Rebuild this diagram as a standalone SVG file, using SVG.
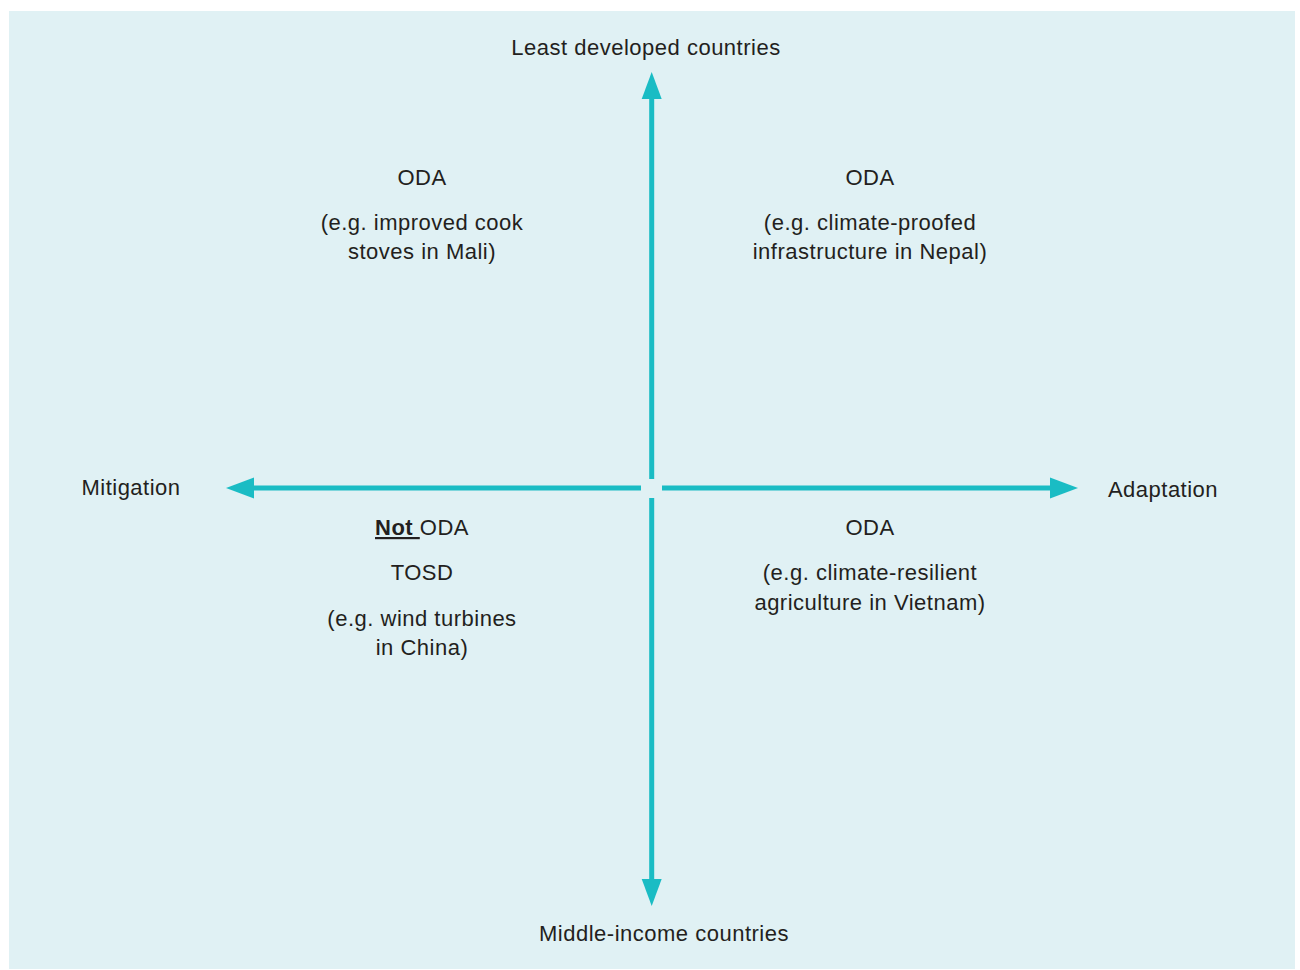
<svg xmlns="http://www.w3.org/2000/svg" width="1300" height="970" viewBox="0 0 1300 970">
<style>
text{font-family:"Liberation Sans",Arial,sans-serif;font-size:22px;letter-spacing:0.5px;fill:#231F20;text-anchor:middle}
.ax{stroke:#1ABCC4;stroke-width:5;fill:none}
.hd{fill:#1ABCC4}
</style>
<rect x="9" y="11" width="1286" height="958" fill="#E0F1F4"/>
<g id="connectors">
<line class="ax" x1="651.7" y1="98" x2="651.7" y2="479"/>
<polygon class="hd" points="651.7,72 641.7,99 661.7,99"/>
<line class="ax" x1="651.7" y1="498" x2="651.7" y2="880"/>
<polygon class="hd" points="651.7,906 641.7,879 661.7,879"/>
<line class="ax" x1="253" y1="488" x2="641" y2="488"/>
<polygon class="hd" points="226,488 254,477.5 254,498.5"/>
<line class="ax" x1="662" y1="488" x2="1051" y2="488"/>
<polygon class="hd" points="1078,488 1050,477.5 1050,498.5"/>
</g>
<g id="top"><text x="646" y="55">Least developed countries</text></g>
<g id="bottom"><text x="664" y="941">Middle-income countries</text></g>
<g id="left"><text x="131" y="495">Mitigation</text></g>
<g id="right"><text x="1163" y="497">Adaptation</text></g>
<g id="q1">
<text x="422" y="185">ODA</text>
<text x="422" y="230">(e.g. improved cook</text>
<text x="422" y="259">stoves in Mali)</text>
</g>
<g id="q2">
<text x="870" y="185">ODA</text>
<text x="870" y="230">(e.g. climate-proofed</text>
<text x="870" y="259">infrastructure in Nepal)</text>
</g>
<g id="q3">
<text x="422" y="535"><tspan font-weight="bold" text-decoration="underline">Not </tspan>ODA</text>
<text x="422" y="580">TOSD</text>
<text x="422" y="626">(e.g. wind turbines</text>
<text x="422" y="655">in China)</text>
</g>
<g id="q4">
<text x="870" y="535">ODA</text>
<text x="870" y="580">(e.g. climate-resilient</text>
<text x="870" y="610">agriculture in Vietnam)</text>
</g>
</svg>
